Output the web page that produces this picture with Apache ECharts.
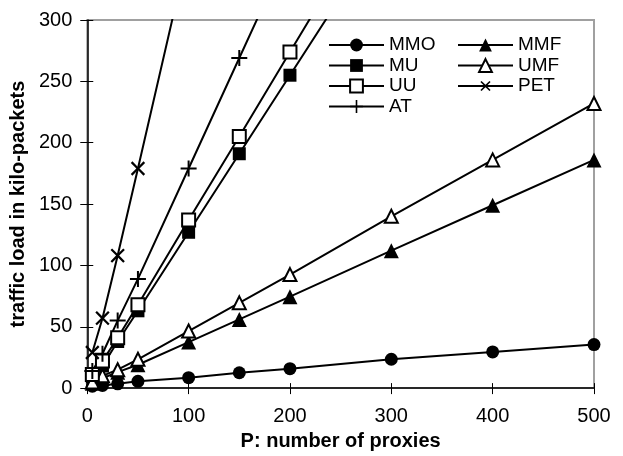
<!DOCTYPE html>
<html>
<head>
<meta charset="UTF-8">
<title>traffic load</title>
<style>
	html, body { margin: 0; padding: 0; background: #fff; }
	#chart { width: 623px; height: 456px; }
</style>
</head>
<body>
<div id="chart"></div>
<script src="https://cdn.jsdelivr.net/npm/echarts@6/dist/echarts.min.js"></script>
<script>
// number of proxies (x values shared by all series)
var proxies = [5, 15, 30, 50, 100, 150, 200, 300, 400, 500];

// traffic load in kilo-packets (points above 300 are off the chart)
var mmo = [1.5, 2.2, 3.5, 5.5, 8.5, 12.5, 15.8, 23.5, 29.5, 35.5];
var mmf = [4, 8, 13, 19, 37.5, 56, 74.5, 112, 149, 186];
var umf = [5, 10, 15, 23.5, 46.5, 69.5, 92.5, 140, 186, 232];
var mu  = [9, 18, 38, 63, 127, 191, 255, 383, 510, 638];
var uu  = [11, 22, 41, 68, 137, 205, 274, 411, 548, 685];
var at  = [14, 28, 55, 89, 179, 269, 359, 539, 719, 899];
var pet = [29, 57, 108, 179, 358, 537, 716, 1074, 1432, 1790];

var xTicks = [0, 100, 200, 300, 400, 500];
var yTicks = [0, 50, 100, 150, 200, 250, 300];

var FONT = "'Liberation Sans', Arial, sans-serif";
var PLUS = 'path://M7,0H9V7H16V9H9V16H7V9H0V7H7Z';

function pairs(ys) {
	var out = [];
	for (var i = 0; i < proxies.length; i++) {
		out.push([proxies[i], ys[i]]);
	}
	return out;
}

function makeSeries(name, ys, symbol, size, rotate) {
	return {
		name: name,
		type: 'line',
		data: pairs(ys),
		symbol: symbol,
		symbolSize: size,
		symbolRotate: rotate || 0,
		showAllSymbol: true,
		clip: true,
		lineStyle: { color: '#000', width: 2 },
		itemStyle: { color: '#000', borderColor: '#000', borderWidth: symbol.indexOf('empty') === 0 ? 2 : 0 },
		emphasis: { disabled: true }
	};
}

var chart = echarts.init(document.getElementById('chart'));

var option = {
	animation: false,
	backgroundColor: '#fff',
	grid: {
		left: 87, right: 29, top: 20, bottom: 65,
		show: true, borderColor: '#a0a0a0', borderWidth: 2
	},
	xAxis: [{
		type: 'value',
		min: xTicks[0], max: xTicks[xTicks.length - 1], interval: 100,
		name: 'P: number of proxies',
		nameLocation: 'middle',
		nameGap: 40,
		nameTextStyle: { color: '#000', fontSize: 20, fontWeight: 'bold', fontFamily: FONT },
		axisLine: { show: true, lineStyle: { color: '#000', width: 1.5 } },
		axisTick: { show: true, inside: false, length: 6, lineStyle: { color: '#000', width: 1 } },
		axisLabel: { color: '#000', fontSize: 20, fontFamily: FONT, margin: 18 },
		splitLine: { show: false }
	}, {
		// second copy only for the inner half of the crossing ticks
		type: 'value', position: 'bottom',
		min: xTicks[0], max: xTicks[xTicks.length - 1], interval: 100,
		axisLine: { show: false },
		axisTick: { show: true, inside: true, length: 5, lineStyle: { color: '#000', width: 1 } },
		axisLabel: { show: false },
		splitLine: { show: false }
	}],
	yAxis: [{
		type: 'value',
		min: yTicks[0], max: yTicks[yTicks.length - 1], interval: 50,
		name: 'traffic load in kilo-packets',
		nameLocation: 'middle',
		nameGap: 49,
		nameTextStyle: { color: '#000', fontSize: 20, fontWeight: 'bold', fontFamily: FONT },
		axisLine: { show: true, lineStyle: { color: '#000', width: 1.5 } },
		axisTick: { show: true, inside: false, length: 7, lineStyle: { color: '#000', width: 1 } },
		axisLabel: { color: '#000', fontSize: 20, fontFamily: FONT, margin: 15 },
		splitLine: { show: false }
	}, {
		type: 'value', position: 'left',
		min: yTicks[0], max: yTicks[yTicks.length - 1], interval: 50,
		axisLine: { show: false },
		axisTick: { show: true, inside: true, length: 6, lineStyle: { color: '#000', width: 1 } },
		axisLabel: { show: false },
		splitLine: { show: false }
	}],
	legend: [{
		data: ['MMO', 'MU', 'UU', 'AT'],
		orient: 'vertical',
		left: 324, top: 33,
		padding: [2, 4, 2, 4],
		backgroundColor: '#fff',
		itemWidth: 55, itemHeight: 16, itemGap: 0.5,
		textStyle: { color: '#000', fontSize: 19, fontFamily: FONT, lineHeight: 20 },
		selectedMode: false
	}, {
		data: ['MMF', 'UMF', 'PET'],
		orient: 'vertical',
		left: 453, top: 33,
		padding: [2, 18, 2, 4],
		backgroundColor: '#fff',
		itemWidth: 55, itemHeight: 16, itemGap: 0.5,
		textStyle: { color: '#000', fontSize: 19, fontFamily: FONT, lineHeight: 20 },
		selectedMode: false
	}],
	series: [
		makeSeries('MMO', mmo, 'circle', 13),
		makeSeries('MMF', mmf, 'triangle', 15),
		makeSeries('MU', mu, 'rect', 13),
		makeSeries('UMF', umf, 'emptyTriangle', 13),
		makeSeries('UU', uu, 'emptyRect', 13),
		makeSeries('PET', pet, PLUS, 18, 45),
		makeSeries('AT', at, PLUS, 16)
	]
};

chart.setOption(option);
</script>
</body>
</html>
